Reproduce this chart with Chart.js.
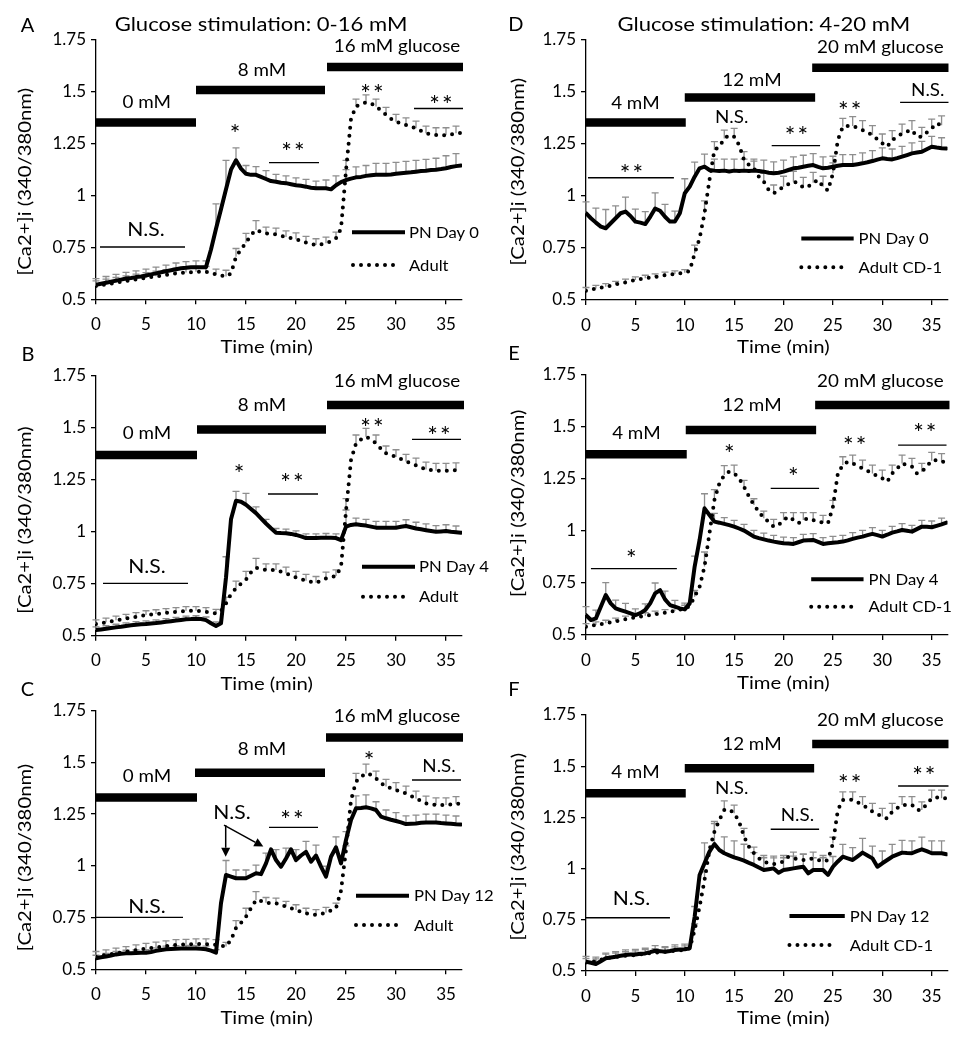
<!DOCTYPE html>
<html><head><meta charset="utf-8">
<script src="https://cdn.jsdelivr.net/npm/chart.js@4.4.1/dist/chart.umd.min.js"></script>
<style>
html,body{margin:0;padding:0;background:#fff;}
#wrap{position:relative;width:970px;height:1050px;overflow:hidden;background:#fff;}
canvas{position:absolute;}
</style></head>
<body><div id="wrap">
<canvas id="cA" width="500" height="362" style="left:0px;top:0px"></canvas>
<canvas id="cB" width="500" height="365" style="left:0px;top:330px"></canvas>
<canvas id="cC" width="500" height="378" style="left:0px;top:672px"></canvas>
<canvas id="cD" width="485" height="362" style="left:485px;top:0px"></canvas>
<canvas id="cE" width="485" height="365" style="left:485px;top:330px"></canvas>
<canvas id="cF" width="485" height="378" style="left:485px;top:672px"></canvas>
</div>
<script>
// ---------- shared axes ----------
const time = [
0,0.5,1,1.5,2,2.5,3,3.5,4,4.5,
5,5.5,6,6.5,7,7.5,8,8.5,9,9.5,
10,10.5,11,11.5,12,12.5,13,13.5,14,14.5,
15,15.5,16,16.5,17,17.5,18,18.5,19,19.5,
20,20.5,21,21.5,22,22.5,23,23.5,24,24.5,
25,25.5,26,26.5,27,27.5,28,28.5,29,29.5,
30,30.5,31,31.5,32,32.5,33,33.5,34,34.5,
35,35.5,36,36.5];
const errTime = [0,1,2,3,4,5,6,7,8,9,10,11,12,13,14,15,16,17,18,19,20,21,22,23,24,25,26,27,28,29,30,31,32,33,34,35,36];
const xTicks = [0,5,10,15,20,25,30,35];
const yTicks = [0.5,0.75,1,1.25,1.5,1.75];
const yTickLabels = ['0.5','0.75','1','1.25','1.5','1.75'];
const xTitle = 'Time (min)';
const yTitle = '[Ca2+]i (340/380nm)';

// ---------- Panel A ----------
const aPN = [
0.570,0.575,0.580,0.585,0.590,0.595,0.600,0.603,0.607,0.610,
0.615,0.620,0.625,0.630,0.635,0.640,0.645,0.650,0.652,0.655,
0.655,0.655,0.655,0.740,0.840,0.934,1.030,1.125,1.170,1.130,
1.105,1.100,1.100,1.090,1.080,1.070,1.067,1.062,1.060,1.055,
1.050,1.047,1.043,1.038,1.035,1.035,1.035,1.030,1.050,1.065,
1.075,1.082,1.088,1.090,1.095,1.098,1.100,1.100,1.100,1.102,
1.105,1.108,1.110,1.112,1.115,1.118,1.120,1.123,1.125,1.128,
1.132,1.138,1.142,1.145];
const aAdult = [
0.564,0.568,0.572,0.576,0.580,0.584,0.588,0.592,0.596,0.600,
0.604,0.607,0.611,0.614,0.618,0.621,0.625,0.627,0.629,0.631,
0.633,0.633,0.633,0.628,0.620,0.615,0.610,0.625,0.705,0.740,
0.773,0.810,0.834,0.825,0.818,0.815,0.813,0.807,0.800,0.795,
0.790,0.782,0.773,0.767,0.762,0.765,0.770,0.780,0.794,0.840,
1.120,1.370,1.430,1.440,1.450,1.445,1.430,1.410,1.390,1.370,
1.356,1.348,1.340,1.332,1.324,1.312,1.300,1.295,1.292,1.290,
1.292,1.295,1.300,1.302];
const aPNErr = [0.03,0.03,0.03,0.03,0.03,0.03,0.03,0.03,0.03,0.03,0.03,0.03,0.12,0.14,0.06,0.04,0.04,0.04,0.035,0.035,0.035,0.035,0.035,0.04,0.045,0.05,0.05,0.05,0.055,0.055,0.055,0.055,0.055,0.055,0.055,0.06,0.06];
const aAdultErr = [0.025,0.025,0.025,0.025,0.025,0.025,0.025,0.025,0.025,0.025,0.025,0.025,0.025,0.03,0.04,0.045,0.045,0.03,0.03,0.03,0.03,0.03,0.03,0.03,0.03,0.05,0.035,0.035,0.035,0.035,0.035,0.035,0.035,0.035,0.035,0.035,0.035];
const aNames = ['PN Day 0','Adult'];
const aStim = [[0,10,1.352,'0 mM',5.07,1.453],[10,22.9,1.509,'8 mM',16.6,1.605],[23.1,36.7,1.62,'16 mM glucose',30.1,1.723]];
const aMarks = [['*',13.9,1.324,'star'],['**',19.7,1.24,'star'],['**',27.6,1.52,'star'],['**',34.5,1.466,'star'],['N.S.',5.0,0.837,'nsb']];
const aLines = [[17.3,22.3,1.159],[31.8,36.7,1.42],[0.4,8.9,0.752]];
const aLegend = {s:[25.6,30.9,0.823], d:[25.7,30.1,0.665], tx:31.3};

// ---------- Panel B ----------
const bPN = [
0.527,0.530,0.533,0.537,0.540,0.543,0.547,0.550,0.553,0.555,
0.556,0.559,0.561,0.564,0.567,0.570,0.573,0.576,0.579,0.580,
0.582,0.580,0.575,0.560,0.547,0.560,0.780,1.060,1.150,1.145,
1.130,1.110,1.090,1.065,1.040,1.017,0.996,0.994,0.993,0.990,
0.985,0.978,0.970,0.970,0.970,0.971,0.972,0.971,0.970,0.960,
1.025,1.033,1.036,1.033,1.030,1.025,1.020,1.020,1.020,1.020,
1.020,1.024,1.028,1.022,1.016,1.012,1.008,1.004,1.000,1.002,
1.004,1.000,0.998,0.996];
const bAdult = [
0.556,0.560,0.565,0.569,0.574,0.578,0.583,0.587,0.591,0.596,
0.600,0.602,0.605,0.607,0.610,0.612,0.615,0.617,0.620,0.620,
0.620,0.618,0.615,0.611,0.607,0.620,0.655,0.700,0.728,0.750,
0.770,0.805,0.827,0.820,0.816,0.816,0.816,0.808,0.800,0.790,
0.780,0.772,0.765,0.760,0.755,0.765,0.776,0.782,0.787,0.830,
1.100,1.345,1.426,1.445,1.458,1.445,1.426,1.400,1.378,1.370,
1.360,1.350,1.338,1.330,1.320,1.310,1.300,1.297,1.294,1.294,
1.294,1.295,1.297,1.300];
const bPNErr = [0.015,0.015,0.015,0.015,0.015,0.015,0.015,0.015,0.015,0.015,0.015,0.015,0.02,0.1,0.045,0.055,0.03,0.02,0.02,0.02,0.02,0.02,0.02,0.02,0.02,0.08,0.03,0.03,0.03,0.03,0.03,0.03,0.03,0.03,0.03,0.03,0.03];
const bAdultErr = [0.02,0.02,0.02,0.02,0.02,0.02,0.02,0.02,0.02,0.02,0.02,0.02,0.02,0.03,0.035,0.04,0.045,0.03,0.03,0.03,0.03,0.03,0.03,0.03,0.03,0.06,0.04,0.04,0.04,0.035,0.035,0.035,0.035,0.035,0.035,0.035,0.035];
const bNames = ['PN Day 4','Adult'];
const bStim = [[0,10.1,1.37,'0 mM',5.1,1.477],[10.1,23,1.493,'8 mM',16.6,1.61],[23.1,36.8,1.61,'16 mM glucose',30.1,1.727]];
const bMarks = [['*',14.3,1.305,'star'],['**',19.6,1.262,'star'],['**',27.6,1.53,'star'],['**',34.3,1.49,'star'],['N.S.',5.1,0.832,'nsb']];
const bLines = [[17.2,22.2,1.182],[31.6,36.5,1.445],[0.7,9.2,0.752]];
const bLegend = {s:[26.6,31.9,0.832], d:[26.7,31.2,0.688], tx:32.3};

// ---------- Panel C ----------
const cPN = [
0.553,0.558,0.562,0.567,0.572,0.575,0.577,0.578,0.579,0.580,
0.580,0.584,0.589,0.593,0.597,0.598,0.599,0.600,0.600,0.600,
0.600,0.599,0.597,0.590,0.580,0.820,0.956,0.948,0.940,0.940,
0.940,0.952,0.964,0.960,1.012,1.080,1.028,0.996,1.036,1.080,
1.028,1.050,1.068,1.020,1.050,0.996,0.948,1.044,1.090,1.012,
1.125,1.222,1.278,1.280,1.283,1.278,1.270,1.238,1.230,1.223,
1.217,1.210,1.202,1.204,1.205,1.208,1.210,1.210,1.210,1.207,
1.205,1.203,1.201,1.200];
const cAdult = [
0.561,0.565,0.569,0.573,0.577,0.581,0.585,0.589,0.593,0.597,
0.600,0.603,0.606,0.609,0.612,0.615,0.618,0.619,0.620,0.621,
0.622,0.622,0.622,0.620,0.618,0.614,0.610,0.642,0.700,0.725,
0.755,0.795,0.835,0.830,0.822,0.820,0.819,0.810,0.803,0.795,
0.787,0.778,0.770,0.766,0.763,0.768,0.774,0.785,0.795,0.880,
1.077,1.318,1.407,1.430,1.447,1.440,1.423,1.400,1.383,1.375,
1.367,1.358,1.350,1.338,1.326,1.314,1.302,1.298,1.294,1.294,
1.294,1.297,1.300,1.300];
const cPNErr = [0.015,0.015,0.015,0.015,0.015,0.015,0.015,0.015,0.015,0.015,0.015,0.015,0.015,0.07,0.04,0.04,0.04,0.05,0.05,0.05,0.05,0.05,0.05,0.05,0.05,0.04,0.06,0.06,0.04,0.04,0.04,0.04,0.04,0.04,0.04,0.04,0.04];
const cAdultErr = [0.025,0.025,0.025,0.025,0.025,0.025,0.025,0.025,0.025,0.025,0.025,0.025,0.025,0.02,0.035,0.04,0.04,0.025,0.025,0.025,0.025,0.025,0.025,0.025,0.025,0.02,0.04,0.045,0.035,0.035,0.035,0.035,0.035,0.035,0.035,0.035,0.035];
const cNames = ['PN Day 12','Adult'];
const cStim = [[0,10.1,1.33,'0 mM',5.1,1.434],[9.9,22.9,1.45,'8 mM',16.6,1.563],[23,36.7,1.621,'16 mM glucose',30.1,1.724]];
const cMarks = [['N.S.',13.6,1.257,'nsb'],['**',19.6,1.25,'star'],['*',27.3,1.536,'star'],['N.S.',34.3,1.483,'ns'],['N.S.',5.1,0.803,'nsb']];
const cLines = [[17.3,22.2,1.186],[31.6,36.5,1.415],[0,8.7,0.751]];
const cArrows = [[12.97,1.197,12.97,1.044],[12.8,1.197,16.73,1.093]];
const cLegend = {s:[26,31.3,0.856], d:[26,30.7,0.714], tx:31.8};

// ---------- Panel D ----------
const dPN = [
0.917,0.893,0.872,0.853,0.845,0.869,0.893,0.917,0.925,0.904,
0.877,0.872,0.865,0.900,0.940,0.929,0.900,0.877,0.877,0.917,
1.013,1.045,1.093,1.133,1.141,1.125,1.122,1.120,1.122,1.118,
1.122,1.120,1.122,1.120,1.122,1.120,1.117,1.112,1.109,1.112,
1.117,1.125,1.133,1.136,1.141,1.145,1.149,1.140,1.133,1.136,
1.141,1.145,1.149,1.149,1.149,1.153,1.157,1.162,1.168,1.175,
1.181,1.178,1.176,1.182,1.189,1.197,1.205,1.209,1.213,1.225,
1.237,1.233,1.230,1.228];
const dAdult = [
0.545,0.550,0.555,0.559,0.564,0.569,0.575,0.580,0.585,0.591,
0.596,0.600,0.604,0.608,0.611,0.615,0.619,0.622,0.625,0.628,
0.631,0.640,0.724,0.796,0.917,1.077,1.221,1.237,1.277,1.293,
1.285,1.245,1.173,1.149,1.133,1.093,1.069,1.029,1.013,1.029,
1.045,1.057,1.069,1.061,1.040,1.045,1.064,1.077,1.045,1.026,
1.109,1.269,1.333,1.337,1.337,1.327,1.317,1.305,1.293,1.273,
1.253,1.237,1.269,1.285,1.301,1.310,1.317,1.285,1.285,1.305,
1.325,1.350,1.340,1.340];
const dPNErr = [0.055,0.07,0.09,0.06,0.07,0.06,0.06,0.075,0.06,0.05,0.07,0.07,0.06,0.055,0.055,0.055,0.055,0.055,0.055,0.055,0.055,0.055,0.055,0.055,0.055,0.05,0.05,0.05,0.05,0.05,0.05,0.05,0.05,0.05,0.05,0.05,0.05];
const dAdultErr = [0.015,0.015,0.015,0.015,0.015,0.015,0.015,0.015,0.015,0.015,0.015,0.04,0.06,0.04,0.04,0.04,0.04,0.035,0.04,0.04,0.05,0.05,0.05,0.05,0.05,0.05,0.04,0.045,0.045,0.045,0.045,0.045,0.045,0.045,0.045,0.045,0.045];
const dNames = ['PN Day 0','Adult CD-1'];
const dStim = [[0,10.1,1.353,'4 mM',5.0,1.446],[10,23.2,1.473,'12 mM',16.8,1.558],[22.9,36.7,1.617,'20 mM glucose',29.8,1.718]];
const dMarks = [['**',4.6,1.133,'star'],['N.S.',14.75,1.38,'ns'],['**',21.3,1.317,'star'],['**',26.7,1.438,'star'],['N.S.',34.6,1.51,'ns']];
const dLines = [[0.2,8.9,1.088],[18.8,23.7,1.242],[31.8,36.7,1.45]];
const dLegend = {s:[21.8,27.1,0.796], d:[21.8,26.3,0.657], tx:27.6};

// ---------- Panel E ----------
const ePN = [
0.596,0.572,0.580,0.636,0.692,0.652,0.628,0.620,0.612,0.604,
0.596,0.605,0.620,0.652,0.700,0.716,0.671,0.644,0.636,0.628,
0.623,0.652,0.829,0.957,1.109,1.077,1.045,1.040,1.034,1.028,
1.021,1.012,1.002,0.988,0.973,0.966,0.960,0.954,0.949,0.945,
0.941,0.940,0.938,0.946,0.954,0.956,0.957,0.948,0.938,0.941,
0.944,0.946,0.949,0.955,0.962,0.968,0.973,0.980,0.986,0.980,
0.973,0.982,0.992,0.998,1.005,1.001,0.997,1.009,1.021,1.020,
1.018,1.025,1.032,1.040];
const eAdult = [
0.540,0.544,0.548,0.552,0.556,0.561,0.566,0.571,0.576,0.580,
0.585,0.589,0.592,0.596,0.600,0.603,0.607,0.612,0.617,0.622,
0.628,0.639,0.684,0.732,0.829,0.989,1.149,1.229,1.269,1.285,
1.277,1.253,1.213,1.165,1.125,1.093,1.061,1.045,1.021,1.029,
1.053,1.069,1.053,1.037,1.053,1.061,1.053,1.045,1.040,1.037,
1.117,1.277,1.317,1.333,1.325,1.313,1.301,1.289,1.277,1.265,
1.253,1.237,1.277,1.300,1.325,1.317,1.309,1.277,1.285,1.310,
1.338,1.341,1.332,1.335];
const ePNErr = [0.04,0.04,0.06,0.04,0.04,0.03,0.03,0.05,0.04,0.03,0.03,0.05,0.07,0.04,0.03,0.03,0.03,0.03,0.03,0.03,0.03,0.03,0.03,0.03,0.03,0.03,0.03,0.03,0.03,0.03,0.03,0.03,0.03,0.03,0.03,0.03,0.03];
const eAdultErr = [0.015,0.015,0.015,0.015,0.015,0.015,0.015,0.015,0.015,0.015,0.015,0.03,0.07,0.05,0.045,0.04,0.03,0.03,0.035,0.035,0.035,0.035,0.035,0.035,0.035,0.03,0.04,0.04,0.04,0.04,0.04,0.04,0.04,0.04,0.04,0.04,0.04];
const eNames = ['PN Day 4','Adult CD-1'];
const eStim = [[0,10.2,1.369,'4 mM',5.1,1.473],[10.1,23.3,1.486,'12 mM',16.8,1.606],[23.2,36.8,1.606,'20 mM glucose',29.8,1.723]];
const eMarks = [['*',4.6,0.896,'star'],['*',14.5,1.397,'star'],['*',21.0,1.29,'star'],['**',27.2,1.438,'star'],['**',34.3,1.50,'star']];
const eLines = [[0.5,9.2,0.819],[18.7,23.6,1.205],[31.6,36.5,1.413]];
const eLegend = {s:[22.8,28.1,0.768], d:[22.8,27.3,0.636], tx:28.6};

// ---------- Panel F ----------
const fPN = [
0.546,0.540,0.534,0.548,0.562,0.566,0.570,0.574,0.578,0.580,
0.581,0.584,0.586,0.592,0.599,0.597,0.594,0.598,0.603,0.605,
0.606,0.611,0.765,0.969,1.026,1.083,1.120,1.091,1.075,1.065,
1.055,1.047,1.039,1.028,1.018,1.005,0.993,0.997,1.001,0.980,
0.993,0.997,1.001,1.005,1.009,0.977,0.993,0.993,0.993,0.969,
1.009,1.035,1.058,1.050,1.042,1.060,1.078,1.064,1.050,1.009,
1.026,1.042,1.058,1.068,1.078,1.076,1.075,1.085,1.094,1.085,
1.075,1.075,1.075,1.070];
const fAdult = [
0.541,0.545,0.548,0.555,0.562,0.565,0.568,0.571,0.574,0.576,
0.578,0.581,0.584,0.587,0.589,0.592,0.594,0.596,0.598,0.600,
0.603,0.611,0.700,0.814,0.944,1.091,1.180,1.237,1.286,1.289,
1.270,1.229,1.156,1.107,1.075,1.050,1.034,1.026,1.022,1.028,
1.034,1.058,1.050,1.046,1.042,1.046,1.050,1.042,1.034,1.042,
1.123,1.286,1.335,1.337,1.335,1.323,1.311,1.295,1.278,1.266,
1.254,1.245,1.278,1.295,1.311,1.311,1.311,1.286,1.286,1.315,
1.343,1.348,1.343,1.343];
const fPNErr = [0.025,0.025,0.025,0.025,0.025,0.025,0.025,0.025,0.025,0.025,0.025,0.05,0.1,0.1,0.08,0.08,0.08,0.06,0.06,0.06,0.06,0.06,0.06,0.06,0.06,0.05,0.06,0.06,0.07,0.06,0.06,0.06,0.06,0.06,0.06,0.06,0.06];
const fAdultErr = [0.02,0.02,0.02,0.02,0.02,0.02,0.02,0.02,0.02,0.02,0.02,0.03,0.04,0.05,0.045,0.04,0.04,0.03,0.03,0.03,0.03,0.03,0.03,0.03,0.03,0.03,0.04,0.04,0.04,0.04,0.04,0.04,0.04,0.04,0.04,0.04,0.04];
const fNames = ['PN Day 12','Adult CD-1'];
const fStim = [[0,10.1,1.368,'4 mM',5.0,1.473],[10,23.1,1.49,'12 mM',16.8,1.608],[22.9,36.7,1.608,'20 mM glucose',29.8,1.725]];
const fMarks = [['N.S.',14.75,1.392,'ns'],['N.S.',21.4,1.262,'ns'],['**',26.7,1.441,'star'],['**',34.2,1.481,'star'],['N.S.',4.6,0.855,'nsb']];
const fLines = [[18.7,23.6,1.192],[31.6,36.7,1.403],[0,8.5,0.76]];
const fLegend = {s:[20.6,26.2,0.768], d:[20.6,25.1,0.627], tx:26.7};

// ---------- layout / style ----------
const FONT = 'Lato';
const TS = {
  lab:  {size:16.5, sx:1.14, dy:0.36},
  nsb:  {size:18.5, sx:1.14, dy:0.36},
  ns:   {size:16.5, sx:1.14, dy:0.36},
  star: {size:25,   sx:1.0,  dy:0.6, spacing:2},
  leg:  {size:16,   sx:1.04, dy:0.36},
  title:{size:19.5, sx:1.13, dy:0.36},
  letter:{size:20,  sx:1.0,  dy:0.36},
  axis: {size:17.5, sx:1.16, dy:0.36}
};
const PANELS = [
 {id:'cA',left:0,top:0,w:500,h:362,area:[96,40,462,299.3],pn:aPN,adult:aAdult,pnErr:aPNErr,adultErr:aAdultErr,names:aNames,stim:aStim,marks:aMarks,lines:aLines,arrows:[],legend:aLegend,
  letter:['A',27.5,25],title:['Glucose stimulation: 0-16 mM',261,24],yT:[25,181.7],xT:[266.7,346.5]},
 {id:'cB',left:0,top:330,w:500,h:365,area:[96,376,462,635.7],pn:bPN,adult:bAdult,pnErr:bPNErr,adultErr:bAdultErr,names:bNames,stim:bStim,marks:bMarks,lines:bLines,arrows:[],legend:bLegend,
  letter:['B',28,353.3],title:null,yT:[25,520],xT:[266.7,684]},
 {id:'cC',left:0,top:672,w:500,h:378,area:[96,710.7,462,969.3],pn:cPN,adult:cAdult,pnErr:cPNErr,adultErr:cAdultErr,names:cNames,stim:cStim,marks:cMarks,lines:cLines,arrows:cArrows,legend:cLegend,
  letter:['C',27.5,689],title:null,yT:[25,857.5],xT:[266.7,1018]},
 {id:'cD',left:485,top:0,w:485,h:362,area:[586,40,947.5,300],pn:dPN,adult:dAdult,pnErr:dPNErr,adultErr:dAdultErr,names:dNames,stim:dStim,marks:dMarks,lines:dLines,arrows:[],legend:dLegend,
  letter:['D',515.8,23.3],title:['Glucose stimulation: 4-20 mM',763.8,24],yT:[518.3,171.7],xT:[783.3,347]},
 {id:'cE',left:485,top:330,w:485,h:365,area:[586,375,947.5,635],pn:ePN,adult:eAdult,pnErr:ePNErr,adultErr:eAdultErr,names:eNames,stim:eStim,marks:eMarks,lines:eLines,arrows:[],legend:eLegend,
  letter:['E',514,353],title:null,yT:[518.3,503.3],xT:[783.3,683]},
 {id:'cF',left:485,top:672,w:485,h:378,area:[586,715,947.5,971],pn:fPN,adult:fAdult,pnErr:fPNErr,adultErr:fAdultErr,names:fNames,stim:fStim,marks:fMarks,lines:fLines,arrows:[],legend:fLegend,
  letter:['F',514,689],title:null,yT:[518.3,846.7],xT:[783.3,1018]}
];
const BY_ID = {};
PANELS.forEach(p => BY_ID[p.id] = p);

function drawText(ctx, str, x, cy, st, align) {
  ctx.save();
  ctx.font = st.size + 'px ' + FONT;
  ctx.fillStyle = '#000';
  ctx.textBaseline = 'alphabetic';
  ctx.textAlign = 'left';
  if (st.spacing) ctx.letterSpacing = st.spacing + 'px';
  let w = ctx.measureText(str).width;
  if (st.spacing) w -= st.spacing;
  w *= st.sx;
  const x0 = align === 'center' ? x - w / 2 : x;
  ctx.translate(x0, cy + st.dy * st.size);
  ctx.scale(st.sx, 1);
  ctx.fillText(str, 0, 0);
  ctx.restore();
}

const annotPlugin = {
  id: 'annot',
  beforeDatasetsDraw(chart) {
    const p = BY_ID[chart.canvas.id];
    const ctx = chart.ctx, xs = chart.scales.x, ys = chart.scales.y;
    ctx.save();
    ctx.strokeStyle = '#8e8e8e';
    ctx.lineWidth = 1.3;
    [[p.pn, p.pnErr], [p.adult, p.adultErr]].forEach(([vals, errs]) => {
      errTime.forEach((t, k) => {
        const i = time.indexOf(t);
        const v = vals[i], e = errs[k];
        const px = xs.getPixelForValue(t);
        const py0 = ys.getPixelForValue(v), py1 = ys.getPixelForValue(v + e);
        ctx.beginPath();
        ctx.moveTo(px, py0); ctx.lineTo(px, py1);
        ctx.moveTo(px - 3.5, py1); ctx.lineTo(px + 3.5, py1);
        ctx.stroke();
      });
    });
    ctx.restore();
  },
  afterDatasetsDraw(chart) {
    const p = BY_ID[chart.canvas.id];
    const ctx = chart.ctx, xs = chart.scales.x, ys = chart.scales.y;
    const X = v => xs.getPixelForValue(v), Y = v => ys.getPixelForValue(v);
    p.stim.forEach(s => drawText(ctx, s[3], X(s[4]), Y(s[5]), TS.lab, 'center'));
    p.marks.forEach(m => drawText(ctx, m[0], X(m[1]), Y(m[2]), TS[m[3]], 'center'));
    drawText(ctx, p.names[0], X(p.legend.tx), Y(p.legend.s[2]), TS.leg, 'left');
    drawText(ctx, p.names[1], X(p.legend.tx), Y(p.legend.d[2]), TS.leg, 'left');
    p.arrows.forEach(a => {
      const x1 = X(a[0]), y1 = Y(a[1]), x2 = X(a[2]), y2 = Y(a[3]);
      const ang = Math.atan2(y2 - y1, x2 - x1), L = 9, W = 4.5;
      const bx = x2 - L * Math.cos(ang), by = y2 - L * Math.sin(ang);
      ctx.save();
      ctx.strokeStyle = '#000'; ctx.fillStyle = '#000'; ctx.lineWidth = 1.5;
      ctx.beginPath(); ctx.moveTo(x1, y1); ctx.lineTo(bx, by); ctx.stroke();
      ctx.beginPath();
      ctx.moveTo(x2, y2);
      ctx.lineTo(bx + W * Math.sin(ang), by - W * Math.cos(ang));
      ctx.lineTo(bx - W * Math.sin(ang), by + W * Math.cos(ang));
      ctx.closePath(); ctx.fill();
      ctx.restore();
    });
  },
  afterDraw(chart) {
    const p = BY_ID[chart.canvas.id];
    const ctx = chart.ctx;
    const lx = v => v - p.left, ly = v => v - p.top;
    drawText(ctx, p.letter[0], lx(p.letter[1]), ly(p.letter[2]), TS.letter, 'center');
    if (p.title) drawText(ctx, p.title[0], lx(p.title[1]), ly(p.title[2]), TS.title, 'center');
    drawText(ctx, xTitle, lx(p.xT[0]), ly(p.xT[1]), TS.axis, 'center');
    ctx.save();
    ctx.translate(lx(p.yT[0]), ly(p.yT[1]));
    ctx.rotate(-Math.PI / 2);
    ctx.scale(TS.axis.sx, 1);
    ctx.font = TS.axis.size + 'px ' + FONT;
    ctx.fillStyle = '#000';
    ctx.textAlign = 'center';
    ctx.textBaseline = 'middle';
    ctx.fillText(yTitle, 0, 0);
    ctx.restore();
  }
};

function xy(vals) { return time.map((t, i) => ({x: t, y: vals[i]})); }
function seg(a) { return [{x: a[0], y: a[2]}, {x: a[1], y: a[2]}]; }

const SOLID = {borderColor:'#000', borderWidth:4, pointRadius:0, tension:0, borderJoinStyle:'round', borderCapStyle:'round', fill:false};
const DOTTED = {borderColor:'#000', borderWidth:4, pointRadius:0, tension:0, borderDash:[0,8], borderCapStyle:'round', borderJoinStyle:'round', fill:false};

Chart.defaults.font.family = FONT;
Chart.defaults.color = '#000';

PANELS.forEach(p => {
  const [l, t, r, b] = p.area;
  const datasets = [];
  datasets.push(Object.assign({data: xy(p.pn)}, SOLID));
  datasets.push(Object.assign({data: xy(p.adult)}, DOTTED));
  datasets.push(Object.assign({data: seg(p.legend.s), clip:false}, SOLID, {borderCapStyle:'butt'}));
  datasets.push(Object.assign({data: seg(p.legend.d), clip:false}, DOTTED));
  p.stim.forEach(s => datasets.push({data: seg(s), borderColor:'#000', borderWidth:8.5, borderCapStyle:'butt', pointRadius:0, clip:false}));
  p.lines.forEach(s => datasets.push({data: seg(s), borderColor:'#000', borderWidth:1.4, borderCapStyle:'butt', pointRadius:0, clip:false}));
  new Chart(document.getElementById(p.id), {
    type: 'line',
    data: {datasets},
    options: {
      responsive: false, animation: false, devicePixelRatio: 1,
      layout: {padding: {left: 0, top: t - p.top, right: p.left + p.w - r, bottom: 0}},
      plugins: {legend: {display: false}, tooltip: {enabled: false}},
      events: [],
      scales: {
        x: {
          type: 'linear', min: 0, max: 36.6,
          afterFit: s => { s.height = p.top + p.h - b; },
          afterBuildTicks: s => { s.ticks = xTicks.map(v => ({value: v})); },
          ticks: {font: {size: 17, family: FONT}, color: '#000', padding: 10, maxRotation: 0, autoSkip: false, callback: v => String(v)},
          grid: {display: true, drawOnChartArea: false, drawTicks: true, tickLength: 5, color: '#000', lineWidth: 1.3},
          border: {display: true, color: '#000', width: 1.3}
        },
        y: {
          type: 'linear', min: 0.5, max: 1.75,
          afterFit: s => { s.width = l - p.left; },
          afterBuildTicks: s => { s.ticks = yTicks.map(v => ({value: v})); },
          ticks: {font: {size: 17, family: FONT}, color: '#000', padding: 5, autoSkip: false, callback: (v, i) => yTickLabels[yTicks.indexOf(v)]},
          grid: {display: true, drawOnChartArea: false, drawTicks: true, tickLength: 5, color: '#000', lineWidth: 1.3},
          border: {display: true, color: '#000', width: 1.3}
        }
      }
    },
    plugins: [annotPlugin]
  });
});
</script>
</body></html>
